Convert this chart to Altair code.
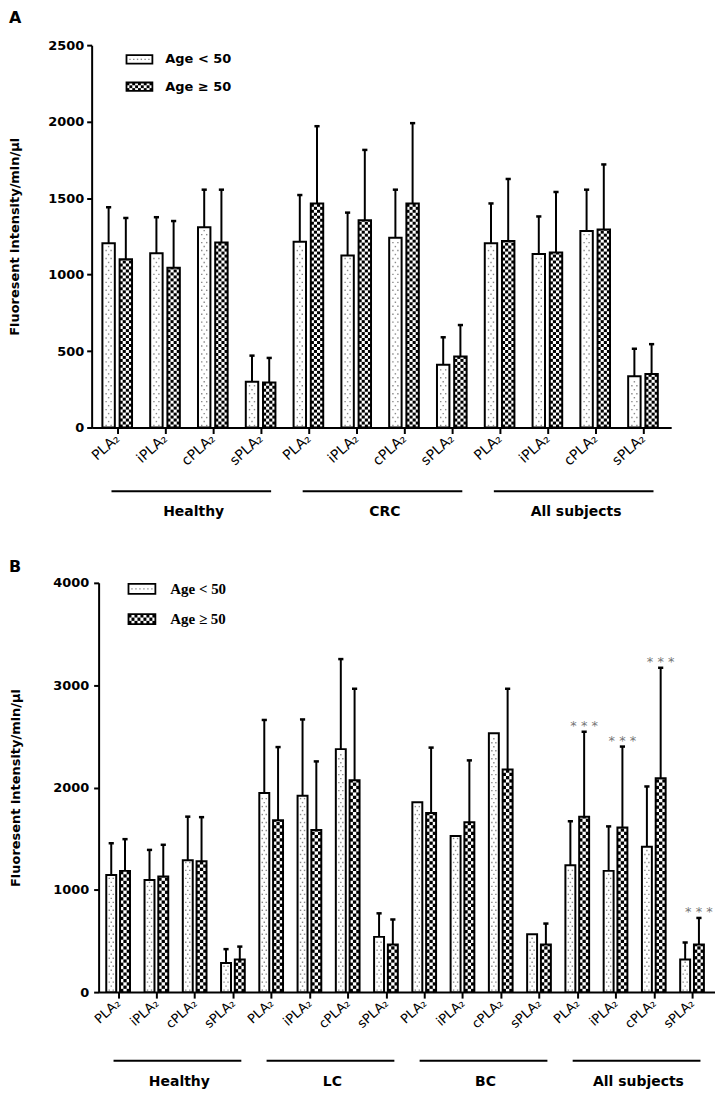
import json
import altair as alt
import pandas as pd

# ---------------- data ----------------
ENZYMES = ["PLA₂", "iPLA₂", "cPLA₂", "sPLA₂"]
AGES = ["Age < 50", "Age ≥ 50"]

A_GROUPS = ["Healthy", "CRC", "All subjects"]
A_LT_MEAN = [1205, 1140, 1310, 300, 1215, 1125, 1240, 410, 1205, 1135, 1285, 335]
A_LT_SD = [235, 235, 245, 170, 305, 280, 315, 180, 260, 245, 270, 180]
A_GE_MEAN = [1100, 1045, 1210, 295, 1465, 1355, 1465, 465, 1220, 1145, 1295, 350]
A_GE_SD = [270, 305, 345, 160, 505, 460, 525, 205, 405, 395, 425, 195]
A_GE_SIG = [0, 0, 0, 0, 0, 0, 0, 0, 0, 0, 0, 0]

B_GROUPS = ["Healthy", "LC", "BC", "All subjects"]
B_LT_MEAN = [1145, 1095, 1290, 285, 1945, 1920, 2375, 540, 1855, 1525, 2530, 565, 1240, 1185, 1420, 320]
B_LT_SD = [310, 295, 425, 135, 715, 745, 880, 230, 0, 0, 0, 0, 430, 435, 590, 165]
B_GE_MEAN = [1185, 1130, 1280, 320, 1680, 1585, 2070, 465, 1750, 1660, 2175, 465, 1715, 1610, 2090, 465]
B_GE_SD = [310, 310, 430, 125, 715, 670, 895, 245, 640, 605, 790, 205, 830, 790, 1080, 260]
B_GE_SIG = [0, 0, 0, 0, 0, 0, 0, 0, 0, 0, 0, 0, 1, 1, 1, 1]

Y_TITLE = "Fluoresent intensity/min/µl"
SANS = "DejaVu Sans"

BW = 0.26   # bar width (in category units)
GAP = 0.05  # half gap between the two bars of a pair


def panel(title, groups, lt_mean, lt_sd, ge_mean, ge_sd, ge_sig, *, width, height,
          ymax, ystep, xdom, unit_px, cell_dy, dot_dy, ncol, xlab_size, ylab_pad,
          ytitle_pad, leg_font, leg_size, leg, grp_dy, title_pos, inset=0):
    rows = []
    for gi, g in enumerate(groups):
        for ei, e in enumerate(ENZYMES):
            i = gi * 4 + ei
            rows.append({"idx": i, "group": g, "enzyme": e, "age": AGES[0], "side": -1,
                         "value": lt_mean[i], "sd": lt_sd[i], "sig": ""})
            rows.append({"idx": i, "group": g, "enzyme": e, "age": AGES[1], "side": 1,
                         "value": ge_mean[i], "sd": ge_sd[i],
                         "sig": "* * *" if ge_sig[i] else ""})
    df = pd.DataFrame(rows)
    n = len(groups) * 4

    if inset:
        xs = alt.Scale(domain=xdom, nice=False, zero=False, range=[inset, width])
    else:
        xs = alt.Scale(domain=xdom, nice=False, zero=False)
    ys = alt.Scale(domain=[0, ymax], nice=False, zero=True)
    capw = 2.6 / unit_px

    base = alt.Chart(df).transform_calculate(
        xa=f"datum.idx + (datum.side < 0 ? {-GAP - BW} : {GAP})",
        xb=f"datum.xa + {BW}",
        xc=f"datum.xa + {BW / 2}",
        top="datum.value + datum.sd",
        y0="0",
        cl=f"datum.xc - {capw}",
        cr=f"datum.xc + {capw}",
    )

    label_expr = json.dumps(ENZYMES, ensure_ascii=False) + "[datum.value % 4]"
    xaxis = alt.Axis(values=list(range(n)), labelExpr=label_expr, title=None, grid=False,
                     labelAngle=-42, labelAlign="right", labelBaseline="middle",
                     labelFont=SANS, labelFontSize=xlab_size, labelColor="black",
                     labelPadding=3, labelFlush=False, labelOverlap=False, labelBound=False,
                     tickSize=6, tickWidth=2, tickColor="black",
                     domainWidth=2, domainColor="black")
    yaxis = alt.Axis(values=list(range(0, ymax + 1, ystep)), format="d", title=Y_TITLE,
                     grid=False, offset=-inset,
                     labelFont=SANS, labelFontWeight="bold", labelFontSize=13,
                     labelColor="black", labelPadding=ylab_pad, labelFlush=False,
                     tickSize=5, tickWidth=2, tickColor="black",
                     domainWidth=2, domainColor="black",
                     titleFont=SANS, titleFontSize=13, titleFontWeight="bold",
                     titleColor="black", titlePadding=ytitle_pad)

    white = base.mark_rect(fill="white").encode(
        x=alt.X("xa:Q", scale=xs, axis=xaxis), x2="xb",
        y=alt.Y("value:Q", scale=ys, axis=yaxis), y2="y0")

    checker = base.transform_filter("datum.side > 0").transform_calculate(
        rws=f"sequence(0, ceil(datum.value / {cell_dy}))"
    ).transform_flatten(["rws"], as_=["r"]).transform_calculate(
        cls=f"sequence(0, {ncol})"
    ).transform_flatten(["cls"], as_=["c"]).transform_filter(
        "(datum.r + datum.c) % 2 == 0"
    ).transform_calculate(
        cx0=f"datum.xa + datum.c * {BW / ncol}",
        cx1=f"datum.cx0 + {BW / ncol}",
        cy0=f"datum.r * {cell_dy}",
        cy1=f"min((datum.r + 1) * {cell_dy}, datum.value)",
    ).mark_rect(fill="black").encode(
        x=alt.X("cx0:Q", scale=xs), x2="cx1",
        y=alt.Y("cy0:Q", scale=ys), y2="cy1")

    dots = base.transform_filter("datum.side < 0").transform_calculate(
        rws=f"sequence(0, floor(datum.value / {dot_dy}))"
    ).transform_flatten(["rws"], as_=["r"]).transform_calculate(
        cls="sequence(0, 2)"
    ).transform_flatten(["cls"], as_=["c"]).transform_filter(
        "datum.r % 2 == 0 || datum.c == 0"
    ).transform_calculate(
        px=f"datum.xa + {BW} * (datum.r % 2 == 0 ? (datum.c == 0 ? 0.3 : 0.7) : 0.5)",
        py=f"(datum.r + 0.5) * {dot_dy}",
    ).mark_square(size=2, color="#8a8a8a", opacity=1).encode(
        x=alt.X("px:Q", scale=xs),
        y=alt.Y("py:Q", scale=ys))

    outline = base.mark_rect(fill="white", fillOpacity=0, stroke="black", strokeWidth=2).encode(
        x=alt.X("xa:Q", scale=xs), x2="xb",
        y=alt.Y("value:Q", scale=ys), y2="y0")

    err = base.transform_filter("datum.sd > 0").mark_rule(color="black", strokeWidth=2).encode(
        x=alt.X("xc:Q", scale=xs),
        y=alt.Y("value:Q", scale=ys), y2="top")
    cap = base.transform_filter("datum.sd > 0").mark_rule(color="black", strokeWidth=2.5).encode(
        x=alt.X("cl:Q", scale=xs), x2="cr",
        y=alt.Y("top:Q", scale=ys))
    sig = base.transform_filter("datum.sig != ''").mark_text(
        font=SANS, fontSize=13, color="#777777", dy=-2, baseline="alphabetic").encode(
        x=alt.X("xc:Q", scale=xs),
        y=alt.Y("top:Q", scale=ys), text="sig:N")

    gdf = pd.DataFrame({"group": groups,
                        "gstart": [gi * 4 for gi in range(len(groups))],
                        "gend": [gi * 4 + 3 for gi in range(len(groups))]})
    grp = alt.Chart(gdf).transform_calculate(
        lx0="datum.gstart - 0.12", lx1="datum.gend + 0.22",
        lc="(datum.gstart + datum.gend) / 2 + 0.1")
    glines = grp.mark_rule(color="black", strokeWidth=2).encode(
        x=alt.X("lx0:Q", scale=xs), x2="lx1", y=alt.value(height + grp_dy[0]))
    gnames = grp.mark_text(font=SANS, fontSize=14, fontWeight="bold", baseline="middle",
                           color="black").encode(
        x=alt.X("lc:Q", scale=xs), y=alt.value(height + grp_dy[1]), text="group:N")

    lx, ly, lw, lh, lgap, tx = leg
    ldf = pd.DataFrame({"age": AGES, "k": [0, 1]})
    lg = alt.Chart(ldf).transform_calculate(
        sx0=f"{lx}", sx1=f"{lx + lw}",
        sy0=f"{ly} + datum.k * {lgap}", sy1=f"datum.sy0 + {lh}",
        tx=f"{tx}", ty=f"datum.sy0 + {lh / 2}")
    sw_white = lg.mark_rect(fill="white").encode(
        x=alt.X("sx0:Q", scale=None), x2="sx1",
        y=alt.Y("sy0:Q", scale=None), y2="sy1")
    cw = lw / 9.0
    chh = lh / 3.0
    sw_check = lg.transform_filter("datum.k == 1").transform_calculate(
        rws="sequence(0, 3)").transform_flatten(["rws"], as_=["r"]).transform_calculate(
        cls="sequence(0, 9)").transform_flatten(["cls"], as_=["c"]).transform_filter(
        "(datum.r + datum.c) % 2 == 0").transform_calculate(
        qx0=f"datum.sx0 + datum.c * {cw}", qx1=f"datum.qx0 + {cw}",
        qy0=f"datum.sy0 + datum.r * {chh}", qy1=f"datum.qy0 + {chh}"
    ).mark_rect(fill="black").encode(
        x=alt.X("qx0:Q", scale=None), x2="qx1",
        y=alt.Y("qy0:Q", scale=None), y2="qy1")
    sw_dots = lg.transform_filter("datum.k == 0").transform_calculate(
        cls="sequence(0, 6)").transform_flatten(["cls"], as_=["c"]).transform_calculate(
        qx=f"datum.sx0 + 3.5 + datum.c * {(lw - 7) / 5.0}", qy="datum.ty"
    ).mark_square(size=2, color="#8a8a8a", opacity=1).encode(
        x=alt.X("qx:Q", scale=None), y=alt.Y("qy:Q", scale=None))
    sw_out = lg.mark_rect(fill="white", fillOpacity=0, stroke="black", strokeWidth=1.8).encode(
        x=alt.X("sx0:Q", scale=None), x2="sx1",
        y=alt.Y("sy0:Q", scale=None), y2="sy1")
    ltext = lg.mark_text(align="left", baseline="middle", font=leg_font, fontSize=leg_size,
                         fontWeight="bold", color="black").encode(
        x=alt.X("tx:Q", scale=None), y=alt.Y("ty:Q", scale=None),
        text="age:N")

    ptitle = alt.Chart(pd.DataFrame({"panel": [title]})).mark_text(
        align="left", baseline="middle", font=SANS, fontSize=16, fontWeight="bold",
        color="black").encode(
        x=alt.value(title_pos[0]), y=alt.value(title_pos[1]), text="panel:N")

    return alt.layer(white, dots, checker, outline, err, cap, sig, glines, gnames,
                     sw_white, sw_dots, sw_check, sw_out, ltext, ptitle).properties(
        width=width, height=height)


pa = panel("A", A_GROUPS, A_LT_MEAN, A_LT_SD, A_GE_MEAN, A_GE_SD, A_GE_SIG,
           width=582, height=384, ymax=2500, ystep=500, xdom=[-0.535, 11.59], unit_px=48.0,
           cell_dy=19.5, dot_dy=26, ncol=4, xlab_size=14, ylab_pad=3, ytitle_pad=26,
           leg_font=SANS, leg_size=13, leg=(35, 10, 26, 8.5, 27.5, 74),
           grp_dy=(64, 85), title_pos=(-83, -27))

# panel B: its y axis sits 7 px to the right of panel A's one
pb = panel("B", B_GROUPS, B_LT_MEAN, B_LT_SD, B_GE_MEAN, B_GE_SD, B_GE_SIG,
           width=626, height=411, ymax=4000, ystep=1000, xdom=[-0.51, 15.6], unit_px=38.42,
           cell_dy=32, dot_dy=39, ncol=3, xlab_size=13, ylab_pad=5, ytitle_pad=30,
           leg_font="Liberation Serif", leg_size=15, leg=(37, 1, 27, 10, 30.5, 79),
           grp_dy=(69, 90), title_pos=(-83, -16), inset=7)

chart = alt.vconcat(pa, pb, spacing=40).properties(
    padding={"left": 0, "top": 0, "right": 0, "bottom": 0}
).configure_view(stroke=None)

chart.save("out.html", embed_options={"renderer": "svg", "actions": False})
